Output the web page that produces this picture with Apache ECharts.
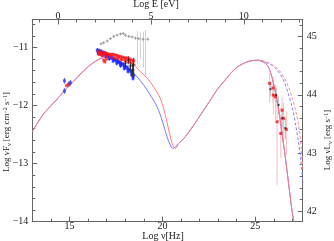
<!DOCTYPE html>
<html><head><meta charset="utf-8">
<script src="https://cdn.jsdelivr.net/npm/echarts@6/dist/echarts.min.js"></script>
<style>html,body{margin:0;padding:0;background:#fff}#c{width:334px;height:241px}</style>
</head><body><div id="c"></div>
<script>
// ---- axis ticks ----
const nuMajor = [15, 20, 25];
const nuMinor = [13,14,16,17,18,19,21,22,23,24,26,27];
const eMajor = [0, 5, 10];
const eMinor = [-1,1,2,3,4,6,7,8,9,11,12,13];
const fMajor = [-14, -13, -12, -11];
const fMinor = [-13.8,-13.6,-13.4,-13.2,-12.8,-12.6,-12.4,-12.2,-11.8,-11.6,-11.4,-11.2,-10.8,-10.6];
const lMajor = [42, 43, 44, 45];
const lMinor = [42.2,42.4,42.6,42.8,43.2,43.4,43.6,43.8,44.2,44.4,44.6,44.8,45.2];

// ---- model curves (log nu, log nuFnu) ----
const synNu = [13.0,13.26,13.62,13.98,14.34,14.69,15.05,15.41,15.77,16.13,16.4,16.67,16.94];
const synF  = [-12.45,-12.31,-12.14,-12.01,-11.89,-11.76,-11.64,-11.52,-11.40,-11.30,-11.24,-11.19,-11.17];
const redTailNu = [17.20,17.63,18.06,18.46,18.82,19.18,19.53,19.89,20.16,20.34,20.52,20.61,20.70];
const redTailF  = [-11.17,-11.19,-11.24,-11.30,-11.42,-11.53,-11.68,-11.88,-12.17,-12.42,-12.65,-12.71,-12.74];
const blueTailNu = [17.20,17.58,17.96,18.28,18.64,19.00,19.35,19.71,19.98,20.25,20.43,20.57];
const blueTailF  = [-11.19,-11.24,-11.31,-11.39,-11.51,-11.65,-11.82,-12.02,-12.25,-12.54,-12.68,-12.74];
const icNu = [20.88,21.15,21.51,21.87,22.22,22.58,22.94,23.30,23.66,24.02,24.28,24.64,25.09,25.36,25.63,25.81,25.98,26.17,26.34,26.49,26.61,26.79,26.97,27.07];
const icF  = [-12.65,-12.57,-12.42,-12.25,-12.08,-11.91,-11.73,-11.59,-11.45,-11.34,-11.29,-11.24,-11.22,-11.24,-11.30,-11.42,-11.62,-11.91,-12.25,-12.60,-12.88,-13.34,-13.80,-14.0];
const redDashNu = [25.09,25.16,25.59,26.02,26.40,26.72,26.99,27.20,27.37,27.47,27.56];
const redDashF  = [-11.22,-11.22,-11.25,-11.32,-11.44,-11.63,-11.87,-12.13,-12.42,-12.73,-13.11];
const blueDashNu = [25.30,25.38,25.81,26.18,26.51,26.77,26.99,27.15,27.31,27.45,27.56];
const blueDashF  = [-11.23,-11.24,-11.29,-11.39,-11.56,-11.79,-12.04,-12.30,-12.60,-12.94,-13.34];

// ---- data points ----
const optBlue = [[14.73,-11.575],[14.73,-11.75],[15.05,-11.61],[14.97,-11.63]];
const optRed  = [[14.85,-11.66],[14.93,-11.64]];
const xrRed = [[16.55,-11.07],[16.65,-11.08],[16.75,-11.09],[16.85,-11.10],[16.95,-11.10],[17.05,-11.11],[17.15,-11.12],[17.25,-11.12],[17.35,-11.12],[17.45,-11.13],[17.55,-11.14],[17.65,-11.15],[17.75,-11.16],[17.85,-11.17],[17.95,-11.18],[18.05,-11.18],[18.15,-11.19],[18.25,-11.20],[18.35,-11.22],[18.45,-11.23],
  [16.6,-11.12],[16.7,-11.13],[16.8,-11.14],[17.0,-11.15],[17.2,-11.16],[17.4,-11.18],[17.6,-11.19],[17.8,-11.21],[18.0,-11.23],[18.2,-11.25],[18.4,-11.27],
  [16.85,-11.22],[16.9,-11.25],[17.0,-11.20]];
const xrBlue = [[16.5,-11.05],[16.6,-11.06],[16.7,-11.07],[16.8,-11.09],[16.9,-11.10],[17.0,-11.12],[17.1,-11.14],[17.2,-11.16],[17.3,-11.18],[17.4,-11.20],[17.5,-11.22],[17.6,-11.24],[17.7,-11.26],[17.8,-11.28],[17.9,-11.30],[18.0,-11.33],[18.1,-11.35],[18.2,-11.38],[18.3,-11.41],[18.4,-11.44],[18.45,-11.48],
  [16.55,-11.10],[16.75,-11.12],[16.95,-11.15],[17.15,-11.19],[17.35,-11.23],[17.55,-11.27],[17.75,-11.31],[17.95,-11.36],[18.15,-11.41],[18.35,-11.47],[18.42,-11.53]];
const xrBlack = [[18.01,-11.27],[18.17,-11.22],[18.28,-11.32],[18.39,-11.39],[18.45,-11.30]];
const xrBlackErr = [[18.01,-11.20,-11.34],[18.17,-11.15,-11.29],[18.28,-11.24,-11.40],[18.39,-11.28,-11.50],[18.45,-11.18,-11.45]];
const grey = [[16.70,-10.94],[16.84,-10.92],[17.03,-10.89],[17.20,-10.85],[17.38,-10.81],[17.56,-10.79],[17.74,-10.77],[17.89,-10.76],[18.01,-10.79],[18.19,-10.81],[18.37,-10.82],[18.55,-10.84],[18.73,-10.85],[18.96,-10.86],[19.21,-10.86]];
const greyErr = [[18.66,-10.72,-11.30],[18.82,-10.74,-11.20],[18.98,-10.73,-11.35],[19.09,-10.70,-11.48]];
const gamRed = [[25.77,-11.62],[25.95,-11.70],[25.97,-11.82],[26.08,-11.85],[26.17,-12.28],[26.37,-12.48],[26.44,-12.08],[26.52,-12.22],[26.67,-12.41]];
const gamRedErr = [[25.77,-11.45,-11.95],[25.95,-11.50,-11.95],[25.97,-11.62,-12.15],[26.08,-11.65,-12.25],[26.17,-11.90,-13.37],[26.37,-12.15,-12.90],[26.44,-11.85,-12.45],[26.52,-11.95,-12.70],[26.67,-12.10,-12.85]];
const gamBlack = [[25.81,-11.72],[26.13,-11.82],[26.25,-11.99],[26.44,-12.22],[26.61,-12.39]];
const gamBlackErr = [[25.81,-11.60,-11.85],[26.13,-11.70,-11.95],[26.25,-11.85,-12.15],[26.44,-12.08,-12.38],[26.61,-12.22,-12.58]];

const SERIF = 'Liberation Serif';
const LOFF = 55.816;
const NUMIN = 13, NUMAX = 27.55, EOFF = 14.383, FMIN = -14, FMAX = -10.52;
const axCol = '#666';
const fmt = v => (v < 0 ? '\u2212' + Math.abs(v) : String(v));

function xAx(pos, min, max, ticks, len, labels) {
  return {type:'value', position:pos, min:min, max:max, gridIndex:0,
    axisLine:{show:true, onZero:false, lineStyle:{color:axCol, width:1}},
    axisTick:{show:true, inside:true, length:len, customValues:ticks, lineStyle:{color:axCol}},
    axisLabel:{show:!!labels, customValues:labels||[], fontFamily:SERIF, fontSize:10, color:'#222', margin:(pos === 'top' ? -1.5 : 0), formatter:fmt},
    splitLine:{show:false}};
}
function yAx(pos, min, max, ticks, len, labels) {
  return {type:'value', position:pos, min:min, max:max, gridIndex:0,
    axisLine:{show:true, onZero:false, lineStyle:{color:axCol, width:1}},
    axisTick:{show:true, inside:true, length:len, customValues:ticks, lineStyle:{color:axCol}},
    axisLabel:{show:!!labels, customValues:labels||[], fontFamily:SERIF, fontSize:10, color:'#222', margin:4, formatter:fmt},
    splitLine:{show:false}};
}
const zip = (a, b) => a.map((v, i) => [v, b[i]]);
function line(data, color, dashed, z) {
  return {type:'line', xAxisIndex:0, yAxisIndex:0, data:data, showSymbol:false, symbol:'none', smooth:0.3,
    lineStyle:{color:color, width:1, type: dashed ? [3,2] : 'solid'}, z:z||2, silent:true, clip:true, animation:false};
}
function scat(data, color, sym, size, z) {
  return {type:'scatter', xAxisIndex:0, yAxisIndex:0, data:data, symbol:sym, symbolSize:size,
    itemStyle:{color:color}, z:z||3, silent:true, animation:false};
}
function cross(data, color, size, z) {
  return {type:'scatter', xAxisIndex:0, yAxisIndex:0, data:data, symbol:'path://M0,5L10,5M5,0L5,10', symbolSize:size,
    itemStyle:{color:'none', borderColor:color, borderWidth:1}, z:z||3, silent:true, animation:false};
}
function errs(data, color, z) {
  return {type:'custom', xAxisIndex:0, yAxisIndex:0, data:data, z:z||1, silent:true, clip:true, animation:false,
    renderItem: function(params, api) {
      const p1 = api.coord([api.value(0), api.value(1)]);
      const p2 = api.coord([api.value(0), api.value(2)]);
      return {type:'line', shape:{x1:p1[0], y1:p1[1], x2:p2[0], y2:p2[1]}, style:{stroke:color, lineWidth:1}};
    }};
}
const blueErr = xrBlue.map(p => [p[0], p[1] + 0.04, p[1] - 0.04]);
const optErr = optBlue.map(p => [p[0], p[1] + 0.05, p[1] - 0.05]);

const F9 = '9px "Liberation Serif"', F6 = '6px "Liberation Serif"';
const chart = echarts.init(document.getElementById('c'), null, {renderer:'canvas'});
chart.setOption({
  animation:false,
  grid:{left:32.3, right:31.3, top:19.5, bottom:19.3, containLabel:false},
  xAxis:[
    xAx('bottom', NUMIN, NUMAX, nuMajor, 5, nuMajor),
    xAx('bottom', NUMIN, NUMAX, nuMinor, 3, null),
    xAx('top', NUMIN - EOFF, NUMAX - EOFF, eMajor, 5, eMajor),
    xAx('top', NUMIN - EOFF, NUMAX - EOFF, eMinor, 3, null)
  ],
  yAxis:[
    yAx('left', FMIN, FMAX, fMajor, 5, fMajor),
    yAx('left', FMIN, FMAX, fMinor, 3, null),
    yAx('right', FMIN + LOFF, FMAX + LOFF, lMajor, 5, lMajor),
    yAx('right', FMIN + LOFF, FMAX + LOFF, lMinor, 3, null)
  ],
  series:[
    errs(greyErr, '#d0d0d0', 1),
    errs(gamRedErr, '#f6c0c0', 1),
    errs(gamBlackErr, '#bbbbbb', 1),
    cross(grey, '#888', 3, 2),
    line(zip(synNu.concat(blueTailNu), synF.concat(blueTailF)).concat(zip(icNu, icF)), '#7a7aff', false, 2),
    line(zip(synNu.concat(redTailNu), synF.concat(redTailF)).concat(zip(icNu, icF)), '#ff7a8a', false, 2),
    line(zip(blueDashNu, blueDashF), '#8080ff', true, 2),
    line(zip(redDashNu, redDashF), '#ff8a8a', true, 2),
    errs(blueErr, '#2030ff', 3),
    errs(optErr, '#6060ff', 3),
    scat(xrBlue, '#1a28ff', 'rect', 3, 4),
    scat(xrRed, '#ff1010', 'rect', 3, 5),
    errs(xrBlackErr, '#333', 5),
    cross(xrBlack, '#222', 4, 6),
    scat(optBlue, '#3040ff', 'rect', 3, 5),
    scat(optRed, '#ff2020', 'rect', 3, 6),
    scat(gamRed, '#ff1010', 'rect', 3, 5),
    scat(gamBlack, '#222', 'rect', 2, 6)
  ],
  graphic:[
    {type:'text', x:156, y:4, style:{text:'Log E [eV]', font:'10px "Liberation Serif"', fill:'#222', align:'center', verticalAlign:'middle'}},
    {type:'text', x:163, y:236.5, style:{text:'Log \u03bd[Hz]', font:'10px "Liberation Serif"', fill:'#222', align:'center', verticalAlign:'middle'}},
    {type:'text', x:7, y:132, rotation:Math.PI/2, style:{
      text:'Log \u03bdF{sub|\u03bd} [erg cm{sup|\u22122} s{sup|\u22121}]', font:F9, fill:'#222', align:'center', verticalAlign:'middle',
      rich:{sub:{font:F6, fill:'#222', padding:[4,0,0,0]}, sup:{font:F6, fill:'#222', padding:[0,0,4,0]}}}},
    {type:'text', x:328, y:140, rotation:Math.PI/2, style:{
      text:'Log \u03bdL{sub|\u03bd} [erg s{sup|\u22121}]', font:F9, fill:'#222', align:'center', verticalAlign:'middle',
      rich:{sub:{font:F6, fill:'#222', padding:[4,0,0,0]}, sup:{font:F6, fill:'#222', padding:[0,0,4,0]}}}}
  ]
});
</script></body></html>
